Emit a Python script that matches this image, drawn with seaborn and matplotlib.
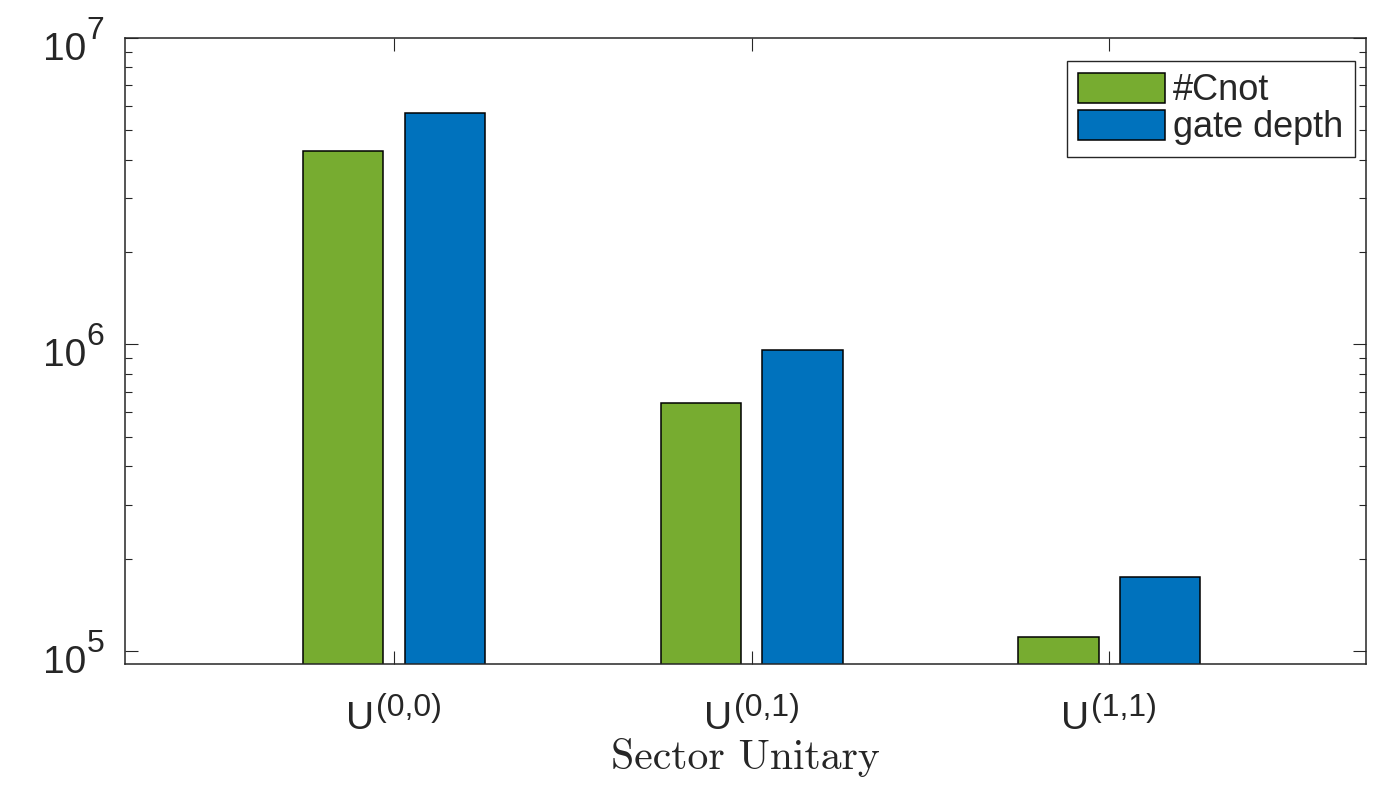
import numpy as np
import pandas as pd
import matplotlib
matplotlib.use("Agg")
import matplotlib.pyplot as plt
import matplotlib.transforms as mtransforms
import seaborn as sns
from matplotlib.ticker import LogLocator, NullFormatter

# ---- data ----
category_base = "U"
category_sups = ["(0,0)", "(0,1)", "(1,1)"]
series_names = ["#Cnot", "gate depth"]
cnot_counts = [4.27e6, 6.43e5, 1.11e5]
gate_depths = [5.68e6, 9.58e5, 1.74e5]
ytick_exponents = [5, 6, 7]

df = pd.DataFrame({
    "sector": category_sups * 2,
    "metric": [series_names[0]] * 3 + [series_names[1]] * 3,
    "value": cnot_counts + gate_depths,
})

sns.set_style("ticks")
plt.rcParams["font.family"] = ["Liberation Sans", "DejaVu Sans"]

axcol = "#262626"
MAIN = 28
SUP = 23

fig = plt.figure(figsize=(13.79, 7.9), dpi=100)
ax = fig.add_axes([0.0903, 0.1595, 0.9006, 0.793])

palette = {"#Cnot": "#77AC30", "gate depth": "#0072BD"}
sns.barplot(data=df, x="sector", y="value", hue="metric", hue_order=series_names,
            order=category_sups, palette=palette, width=0.568, gap=0.21,
            edgecolor="black", linewidth=1.1, saturation=1, ax=ax, errorbar=None)
ax.set_yscale("log")
ax.set_ylim(9.07e4, 1e7)
ax.set_xlim(-0.754, 2.719)

ax.yaxis.set_major_locator(LogLocator(base=10, numticks=10))
ax.yaxis.set_major_formatter(NullFormatter())
ax.yaxis.set_minor_locator(LogLocator(base=10, subs=np.arange(2, 10), numticks=20))
ax.yaxis.set_minor_formatter(NullFormatter())
ax.set_xticks(range(len(category_sups)))
ax.set_xticklabels([])

for s in ax.spines.values():
    s.set_visible(True)
    s.set_color(axcol)
    s.set_linewidth(1.1)

ax.tick_params(axis="both", which="major", direction="in", length=9.5, width=0.8, color=axcol)
ax.tick_params(axis="y", which="minor", direction="in", length=5, width=0.8, color=axcol)
ax.tick_params(axis="y", which="both", left=True, right=True)
ax.tick_params(axis="x", which="both", bottom=True, top=True)
ax.tick_params(axis="x", which="minor", bottom=False, top=False)

# y tick labels: 10^n with MATLAB-like large exponents
ytr = mtransforms.blended_transform_factory(ax.transAxes, ax.transData)
for e in ytick_exponents:
    ax.annotate("10", xy=(0, 10.0 ** e), xycoords=ytr, xytext=(-38.5, -22),
                textcoords="offset pixels", ha="right", va="baseline",
                fontsize=MAIN, color=axcol, annotation_clip=False)
    ax.annotate(str(e), xy=(0, 10.0 ** e), xycoords=ytr, xytext=(-38, -1),
                textcoords="offset pixels", ha="left", va="baseline",
                fontsize=SUP, color=axcol, annotation_clip=False)

# x tick labels: U^{(i,j)}
xtr = mtransforms.blended_transform_factory(ax.transData, ax.transAxes)
for i, sup in enumerate(category_sups):
    ax.annotate(category_base, xy=(i, 0), xycoords=xtr, xytext=(-20, -65),
                textcoords="offset pixels", ha="right", va="baseline",
                fontsize=MAIN, color=axcol, annotation_clip=False)
    ax.annotate(sup, xy=(i, 0), xycoords=xtr, xytext=(-18, -52),
                textcoords="offset pixels", ha="left", va="baseline",
                fontsize=SUP, color=axcol, annotation_clip=False)

ax.set_ylabel("")
ax.set_xlabel("Sector Unitary", fontfamily="cmr10", fontsize=30, color=axcol, va="baseline")
ax.xaxis.set_label_coords(0.5, -0.1676)

leg = ax.legend(loc="upper right", bbox_to_anchor=(0.991, 0.9625), borderaxespad=0,
                fontsize=26, frameon=True, fancybox=False, handlelength=2.4,
                handleheight=0.89, handletextpad=0.22, labelspacing=0.05,
                borderpad=0.33, title=None)
leg.get_frame().set_edgecolor(axcol)
leg.get_frame().set_linewidth(1.0)
leg.get_frame().set_alpha(1)

fig.savefig("out.png", dpi=100)
